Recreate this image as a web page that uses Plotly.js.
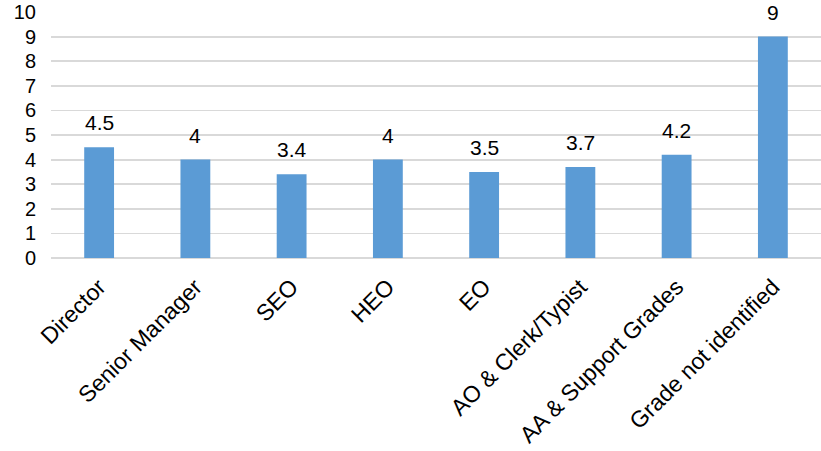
<!DOCTYPE html>
<html>
<head>
<meta charset="utf-8">
<script src="https://cdn.plot.ly/plotly-3.0.1.min.js"></script>
<style>html,body{margin:0;padding:0;background:#fff;}#chart{width:821px;height:451px;}</style>
</head>
<body>
<div id="chart"></div>
<script>
const categories = ["Director", "Senior Manager", "SEO", "HEO", "EO", "AO & Clerk/Typist", "AA & Support Grades", "Grade not identified"];
const values = [4.5, 4, 3.4, 4, 3.5, 3.7, 4.2, 9];
const yTicks = [0, 1, 2, 3, 4, 5, 6, 7, 8, 9, 10];

const fam = "Liberation Sans, Arial, sans-serif";
const labelFont = {family: fam, size: 21, color: "#000"};
const yFont = {family: fam, size: 20, color: "#000"};
const xFont = {family: fam, size: 23, color: "#000"};

const trace = {
  type: "bar",
  x: categories,
  y: values,
  width: 0.31,
  marker: {color: "#5B9BD5"},
  hoverinfo: "none"
};

const annotations = categories.map((c, i) => ({
  x: c, y: values[i], xref: "x", yref: "y",
  text: String(values[i]), showarrow: false,
  yanchor: "bottom", yshift: 11,
  font: labelFont
}));

const layout = {
  width: 821, height: 451,
  margin: {l: 51, r: 0, t: 12, b: 193},
  paper_bgcolor: "#fff", plot_bgcolor: "#fff",
  showlegend: false,
  font: labelFont,
  xaxis: {
    tickangle: -45, tickfont: xFont, showgrid: false, showline: false,
    ticks: "", ticklabelstandoff: 10, automargin: false
  },
  yaxis: {
    range: [0, 10], tickvals: yTicks, ticktext: yTicks.map(String),
    tickfont: yFont, showgrid: true, gridcolor: "#d9d9d9", gridwidth: 1.8,
    zeroline: true, zerolinecolor: "#d9d9d9", zerolinewidth: 1.8,
    showline: false, ticks: "", ticklabelstandoff: 14, automargin: false
  },
  annotations: annotations
};

Plotly.newPlot("chart", [trace], layout, {staticPlot: true});
</script>
</body>
</html>
